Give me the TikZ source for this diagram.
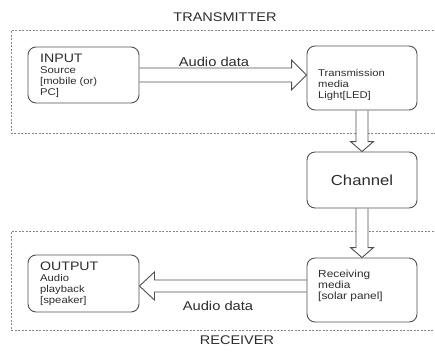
\documentclass[tikz,border=0pt]{standalone}
\usepackage{fontspec}
\setmainfont{Liberation Sans}[FakeStretch=1.15]
\usetikzlibrary{calc}
\definecolor{txt}{RGB}{45,45,45}
\definecolor{edge}{RGB}{80,80,80}
\definecolor{dashc}{RGB}{135,135,135}
\pgfdeclarelayer{bgg}
\pgfdeclarelayer{bg}
\pgfsetlayers{bgg,bg,main}
\begin{document}
\begin{tikzpicture}[x=1pt,y=-1pt,
  box/.style={draw=edge, line width=0.9pt, rounded corners=8pt, fill=white, inner sep=0pt},
  hollow/.style={draw=edge, line width=0.9pt, fill=white, line join=miter},
  group/.style={draw=dashc, line width=0.8pt, dash pattern=on 2pt off 1.5pt},
  ttl/.style={text=txt, font=\fontsize{12.6}{15}\selectfont, inner sep=0pt},
  lbl/.style={text=txt, font=\fontsize{12.8}{14}\selectfont, inner sep=0pt},
  body/.style={text=txt, inner sep=0pt, anchor=base west, font=\fontsize{9.8}{11.3}\selectfont}]
\useasboundingbox (0,0) rectangle (435,351);

\begin{pgfonlayer}{bgg}
\fill[white] (0,0) rectangle (435,351);
\draw[group] (437,30) -- (11,30) -- (11,133) -- (437,133);
\draw[group] (437,231) -- (11,231) -- (11,330) -- (437,330);
\end{pgfonlayer}

\node[ttl] (tx) at (225,17) {TRANSMITTER};
\node[ttl] (rx) at (237,340) {RECEIVER};

\node[box, minimum width=111pt, minimum height=56pt] (in) at (83.5,75) {};
\node[box, minimum width=110pt, minimum height=64pt] (tm) at (362,78) {};
\node[box, minimum width=110pt, minimum height=56pt, text=txt, font=\fontsize{14.5}{16}\selectfont] (ch) at (362,180) {Channel};
\node[box, minimum width=111pt, minimum height=57pt] (out) at (83.5,283.5) {};
\node[box, minimum width=110pt, minimum height=64pt] (rm) at (362,290) {};

\node[body] (intext) at (40,62) {\begin{tabular}[t]{@{}l@{}}{\fontsize{12.3}{14}\selectfont INPUT}\\ Source\\ {[}mobile (or)\\ PC]\end{tabular}};
\node[body] (tmtext) at (318,76) {\begin{tabular}[t]{@{}l@{}}Transmission\\ media\\ Light[LED]\end{tabular}};
\node[body] (outtext) at (40,270) {\begin{tabular}[t]{@{}l@{}}{\fontsize{12.3}{14}\selectfont OUTPUT}\\ Audio\\ playback\\ {[}speaker]\end{tabular}};
\node[body, font=\fontsize{10.3}{11.3}\selectfont] (rmtext) at (318,277) {\begin{tabular}[t]{@{}l@{}}Receiving\\ media\\ {[}solar panel]\end{tabular}};

\node[lbl] (l1) at (214,62) {Audio data};
\node[lbl] (l2) at (218,306) {Audio data};

\begin{pgfonlayer}{bg}
\coordinate (a0) at (in.east);
\coordinate (a1) at (tm.west |- in.east);
\draw[hollow] ($(a0)+(0,-7)$) -- ($(a1)+(-15,-7)$) -- ++(0,-8) -- (a1) -- ($(a1)+(-15,15)$) -- ++(0,-8) -- ($(a0)+(0,7)$);
\draw[hollow] ($(tm.south)+(-6,0)$) -- ($(ch.north)+(-6,-10)$) -- ++(-5.5,0) -- (ch.north) -- ($(ch.north)+(11.5,-10)$) -- ++(-5.5,0) -- ($(tm.south)+(6,0)$);
\draw[hollow] ($(ch.south)+(-6,0)$) -- ($(rm.north)+(-6,-10)$) -- ++(-5.5,0) -- (rm.north) -- ($(rm.north)+(11.5,-10)$) -- ++(-5.5,0) -- ($(ch.south)+(6,0)$);
\coordinate (b0) at ($(rm.west)+(0,-4)$);
\coordinate (b1) at (out.east |- b0);
\draw[hollow] ($(b0)+(0,-6)$) -- ($(b1)+(15,-6)$) -- ++(0,-8) -- (b1) -- ($(b1)+(15,14)$) -- ++(0,-8) -- ($(b0)+(0,6)$);
\end{pgfonlayer}
\end{tikzpicture}
\end{document}
